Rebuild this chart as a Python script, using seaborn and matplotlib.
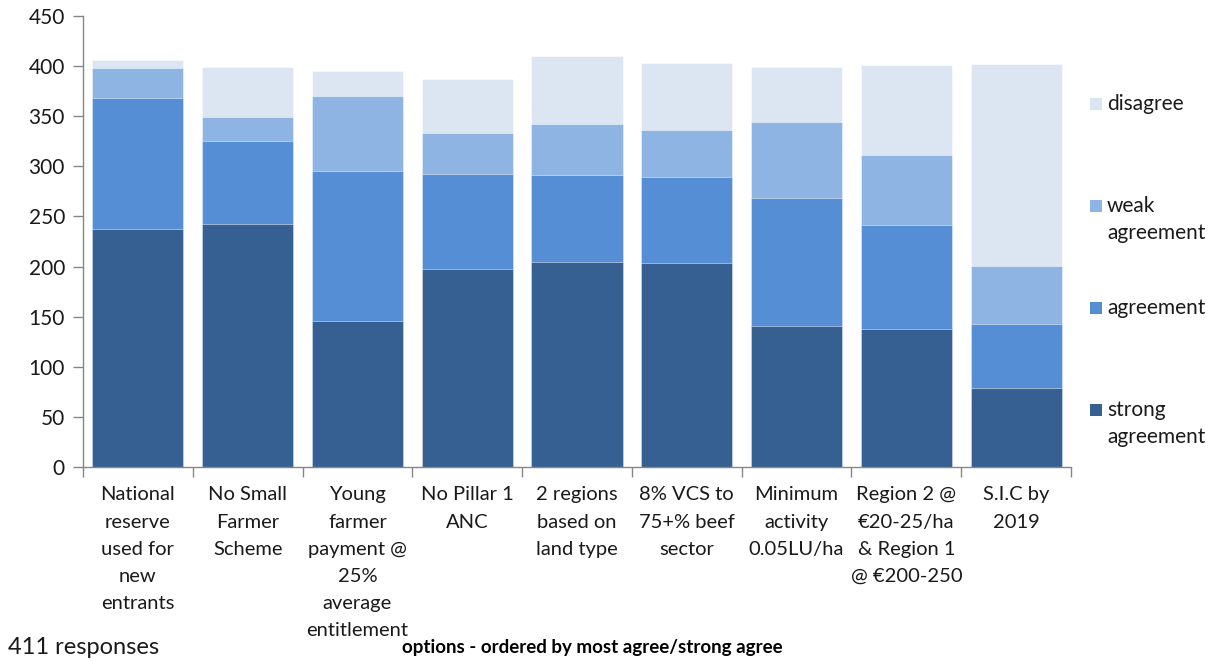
import matplotlib
matplotlib.use("Agg")
import matplotlib.pyplot as plt
import seaborn as sns
import numpy as np
import pandas as pd
from matplotlib.patches import Rectangle
from matplotlib.ticker import FixedLocator, NullFormatter

categories = [
    "National\nreserve\nused for\nnew\nentrants",
    "No Small\nFarmer\nScheme",
    "Young\nfarmer\npayment @\n25%\naverage\nentitlement",
    "No Pillar 1\nANC",
    "2 regions\nbased on\nland type",
    "8% VCS to\n75+% beef\nsector",
    "Minimum\nactivity\n0.05LU/ha",
    "Region 2 @\n€20-25/ha\n& Region 1\n@ €200-250",
    "S.I.C by\n2019",
]
strong_agreement = [237, 242, 146, 198, 205, 204, 141, 138, 79]
agreement = [131, 83, 149, 94, 86, 85, 127, 103, 64]
weak_agreement = [30, 24, 75, 41, 51, 47, 76, 70, 58]
disagree = [8, 50, 25, 54, 68, 67, 55, 90, 201]

series_names = ["strong agreement", "agreement", "weak agreement", "disagree"]
legend_labels = ["strong\nagreement", "agreement", "weak\nagreement", "disagree"]
series_values = [strong_agreement, agreement, weak_agreement, disagree]
colors = ["#376092", "#558ED5", "#8EB4E3", "#DCE6F2"]

sns.set_theme(style="white")
plt.rcParams["font.family"] = ["Lato", "DejaVu Sans"]

W, H = 1215, 661
fig = plt.figure(figsize=(W / 100, H / 100), dpi=100)
ax = fig.add_axes([83 / W, 1 - 467 / H, (1071 - 83) / W, (467 - 16) / H])

# stacked bars: draw cumulative totals from the tallest layer down
cum = np.cumsum(np.array(series_values), axis=0)
df_base = pd.DataFrame({"category": categories})
for i in range(len(series_names) - 1, -1, -1):
    d = df_base.copy()
    d["value"] = cum[i]
    sns.barplot(data=d, x="category", y="value", color=colors[i], saturation=1,
                width=0.83, edgecolor=(1, 1, 1, 0.55), linewidth=0.6, ax=ax)

ax.set_ylim(0, 450)
ax.set_xlim(-0.5, len(categories) - 0.5)
ax.set_yticks(np.arange(0, 451, 50))
ax.set_xlabel("")
ax.set_ylabel("")

for s in ["top", "right"]:
    ax.spines[s].set_visible(False)
for s in ["left", "bottom"]:
    ax.spines[s].set_color("#868686")
    ax.spines[s].set_linewidth(1.0)

ax.tick_params(axis="y", which="major", left=True, length=7, width=1, color="#868686",
               labelsize=15, labelcolor="#1a1a1a", pad=6)
ax.tick_params(axis="x", which="major", bottom=False, labelsize=14.5, labelcolor="#1a1a1a", pad=8)
ax.xaxis.set_minor_locator(FixedLocator(np.arange(-0.5, len(categories), 1.0)))
ax.xaxis.set_minor_formatter(NullFormatter())
ax.tick_params(axis="x", which="minor", bottom=True, length=7, width=1, color="#868686")
for lbl in ax.get_xticklabels():
    lbl.set_horizontalalignment("center")
    lbl.set_verticalalignment("top")
    lbl.set_linespacing(1.72)

# legend: square key beside the first line of each label, top entry first
entry_y = [104, 206, 308, 410]
for k, i in enumerate(range(3, -1, -1)):
    y = entry_y[k]
    fig.add_artist(Rectangle((1090 / W, 1 - (y + 6) / H), 12 / W, 12 / H,
                             transform=fig.transFigure, facecolor=colors[i], edgecolor="none"))
    for j, line in enumerate(legend_labels[i].split("\n")):
        fig.text(1107 / W, 1 - (y + 27 * j) / H, line, fontsize=15, ha="left", va="center",
                 color="#1a1a1a")

fig.text(8 / W, 1 - 648 / H, "411 responses", fontsize=17, ha="left", va="center", color="#1a1a1a")
fig.text(592 / W, 1 - 648 / H, "options - ordered by most agree/strong agree",
         fontsize=13.5, fontweight="bold", ha="center", va="center", color="#000000")

fig.savefig("out.png", dpi=100)
